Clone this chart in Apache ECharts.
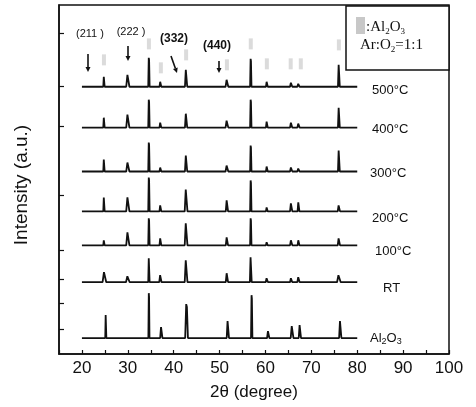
<!DOCTYPE html>
<html><head><meta charset="utf-8">
<script src="https://cdn.jsdelivr.net/npm/echarts@6/dist/echarts.min.js"></script>
<style>html,body{margin:0;padding:0;background:#fff}#c{width:476px;height:407px}</style>
</head><body><div id="c"></div>
<script>
// ---- data ----
const sampleNames = ['500°C', '400°C', '300°C', '200°C', '100°C', 'RT', 'Al2O3'];
const baselines = [26.8, 22.7, 18.3, 14.3, 10.9, 7.2, 1.6];   // vertical offset of each trace (a.u.)
const scanRange = [20, 80];                                     // 2θ range of the scans
// peaks: [2θ, height (a.u.), half width (deg)]
const peaks500 = [[24.8,1.0,0.15],[30.0,1.2,0.35],[34.6,2.9,0.15],[37.1,0.5,0.2],[42.7,1.7,0.25],[51.6,0.7,0.3],[56.8,2.8,0.15],[60.3,0.5,0.2],[65.6,0.4,0.25],[67.2,0.3,0.25],[76.0,2.2,0.2]];
const peaks400 = [[24.8,1.0,0.15],[30.0,1.3,0.35],[34.6,2.8,0.15],[37.1,0.5,0.2],[42.7,1.4,0.25],[51.6,0.7,0.3],[56.8,2.8,0.15],[60.3,0.6,0.2],[65.6,0.5,0.25],[67.2,0.4,0.25],[76.0,2.0,0.2]];
const peaks300 = [[24.8,1.2,0.15],[30.0,0.9,0.35],[34.6,2.9,0.15],[37.1,0.4,0.2],[42.7,1.6,0.25],[51.6,0.6,0.3],[56.8,2.6,0.15],[60.3,0.5,0.2],[65.6,0.4,0.25],[67.2,0.3,0.25],[76.0,2.1,0.2]];
const peaks200 = [[24.8,1.4,0.15],[30.0,1.4,0.35],[34.6,3.4,0.15],[37.1,0.6,0.2],[42.7,2.2,0.3],[51.6,1.1,0.25],[56.8,3.1,0.15],[60.3,0.4,0.2],[65.6,0.8,0.25],[67.2,0.9,0.2],[76.0,0.6,0.25]];
const peaks100 = [[24.8,0.5,0.15],[30.0,1.3,0.35],[34.6,2.7,0.15],[37.1,0.7,0.2],[42.7,2.2,0.3],[51.6,0.8,0.25],[56.8,2.7,0.15],[60.3,0.3,0.2],[65.6,0.5,0.25],[67.2,0.5,0.2],[76.0,0.7,0.25]];
const peaksRT  = [[24.9,1.0,0.4],[30.0,0.6,0.4],[34.6,2.4,0.15],[37.1,0.7,0.25],[42.7,2.2,0.3],[51.6,0.9,0.25],[56.8,2.5,0.2],[60.3,0.4,0.25],[65.6,0.4,0.25],[67.2,0.5,0.25],[76.0,0.7,0.4]];
const peaksAl  = [[25.2,2.3,0.12],[34.6,4.5,0.12],[37.3,1.1,0.25],[42.8,3.4,0.3],[51.8,1.7,0.25],[57.0,4.3,0.15],[60.6,0.7,0.25],[65.8,1.2,0.3],[67.5,1.3,0.25],[76.3,1.7,0.25]];
const allPeaks = [peaks500, peaks400, peaks300, peaks200, peaks100, peaksRT, peaksAl];
// Al2O3 reflection markers above the top trace: [2θ, level (a.u.)]
const alMarkers = [[24.8,29.5],[34.6,31.1],[37.2,28.7],[42.7,30.0],[51.6,29.0],[56.8,31.1],[60.3,29.1],[65.5,29.1],[67.7,29.1],[76.0,31.0]];
const xTickLabels = [20, 30, 40, 50, 60, 70, 80, 90, 100];
const yTickValues = [2.5, 5.1, 7.5, 10.4, 15.9, 22.8, 26.9, 32.2];

// ---- build ----
function traceData(peaks, base) {
  const pts = [[scanRange[0], base]];
  peaks.forEach(([p, h, w]) => {
    pts.push([p - w, base]);
    pts.push([p - w * 0.25, base + h]);
    pts.push([p + w * 0.25, base + h * 0.92]);
    pts.push([p + w, base]);
  });
  pts.push([scanRange[1], base]);
  return pts;
}

const series = allPeaks.map((pk, i) => ({
  type: 'line', data: traceData(pk, baselines[i]), symbol: 'none', silent: true,
  lineStyle: { color: '#111', width: 1.8 }, animation: false
}));
series.push({
  type: 'scatter', data: alMarkers, symbol: 'rect', symbolSize: [4, 11],
  itemStyle: { color: '#d2d2d2' }, silent: true, animation: false
});

const font = 'Liberation Sans, Arial, sans-serif';
function arrow(x1, y1, x2, y2) {
  const a = Math.atan2(y2 - y1, x2 - x1), L = 5, W = 2.5;
  const bx = x2 - L * Math.cos(a), by = y2 - L * Math.sin(a);
  const nx = -Math.sin(a) * W, ny = Math.cos(a) * W;
  return [
    { type: 'polyline', shape: { points: [[x1, y1], [bx, by]] }, style: { stroke: '#111', lineWidth: 1.6 } },
    { type: 'polygon', shape: { points: [[x2, y2], [bx + nx, by + ny], [bx - nx, by - ny]] }, style: { fill: '#111' } }
  ];
}
const labelPos = [[372, 90], [372, 129], [370, 173], [372, 218], [375, 251], [383, 288], [370, 338]];
const graphics = [];
sampleNames.forEach((n, i) => {
  const t = n === 'Al2O3'
    ? { text: 'Al{s|2}O{s|3}', rich: { s: { fontSize: 9, verticalAlign: 'bottom', padding: [8, 0, 0, 0], fontFamily: font } } }
    : { text: n };
  graphics.push({ type: 'text', x: labelPos[i][0], y: labelPos[i][1],
    style: Object.assign({ font: '13px ' + font, fill: '#111', verticalAlign: 'middle' }, t) });
});
[['(211 )', 90, 34, 'normal', 11], ['(222 )', 131, 32, 'normal', 11], ['(332)', 174, 39, 'bold', 12], ['(440)', 217, 46, 'bold', 12]].forEach(a => {
  graphics.push({ type: 'text', x: a[1], y: a[2], style: { text: a[0], font: a[3] + ' ' + a[4] + 'px ' + font, fill: '#111', align: 'center', verticalAlign: 'middle' } });
});
graphics.push(...arrow(88, 54, 88, 72), ...arrow(128, 46, 128, 61), ...arrow(171, 56, 177, 73), ...arrow(219, 61, 219, 73));
// legend box
graphics.push({ type: 'rect', shape: { x: 346, y: 6, width: 103, height: 64 }, style: { fill: '#fff', stroke: '#111', lineWidth: 1.5 } });
graphics.push({ type: 'rect', shape: { x: 356, y: 17, width: 9, height: 17 }, style: { fill: '#c8c8c8' } });
graphics.push({ type: 'text', x: 366, y: 27, style: { text: ':Al{s|2}O{s|3}', font: '15px Liberation Serif, Times New Roman, serif', fill: '#111', verticalAlign: 'middle',
  rich: { s: { fontSize: 9, fontFamily: 'Liberation Serif', padding: [10, 0, 0, 0] } } } });
graphics.push({ type: 'text', x: 360, y: 45, style: { text: 'Ar:O{s|2}=1:1', font: '15px Liberation Serif, Times New Roman, serif', fill: '#111', verticalAlign: 'middle',
  rich: { s: { fontSize: 9, fontFamily: 'Liberation Serif', padding: [10, 0, 0, 0] } } } });
// axis titles
graphics.push({ type: 'text', x: 254, y: 392, style: { text: '2θ (degree)', font: '17px ' + font, fill: '#111', align: 'center', verticalAlign: 'middle' } });
graphics.push({ type: 'text', x: 22, y: 185, rotation: Math.PI / 2, style: { text: 'Intensity (a.u.)', font: '19px ' + font, fill: '#111', align: 'center', verticalAlign: 'middle' } });

const chart = echarts.init(document.getElementById('c'), null, { renderer: 'canvas' });
chart.setOption({
  animation: false,
  grid: { left: 59, right: 27, top: 5, bottom: 53, show: true, borderColor: '#111', borderWidth: 1.5, backgroundColor: 'transparent' },
  xAxis: {
    type: 'value', min: 15, max: 100, interval: 5,
    axisLine: { lineStyle: { color: '#111', width: 1.5 } },
    axisTick: { inside: true, length: 4, lineStyle: { color: '#111', width: 1.2 } },
    axisLabel: { margin: 6, color: '#111', fontSize: 17, fontFamily: font,
      formatter: v => xTickLabels.indexOf(v) >= 0 ? String(v) : '' },
    splitLine: { show: false }
  },
  yAxis: {
    type: 'value', min: 0, max: 35,
    axisLine: { show: true, lineStyle: { color: '#111', width: 1.5 } },
    axisTick: { show: true, inside: true, length: 5, customValues: yTickValues, lineStyle: { color: '#111', width: 1.2 } },
    axisLabel: { show: false },
    splitLine: { show: false }
  },
  series: series,
  graphic: graphics
});
</script>
</body></html>
